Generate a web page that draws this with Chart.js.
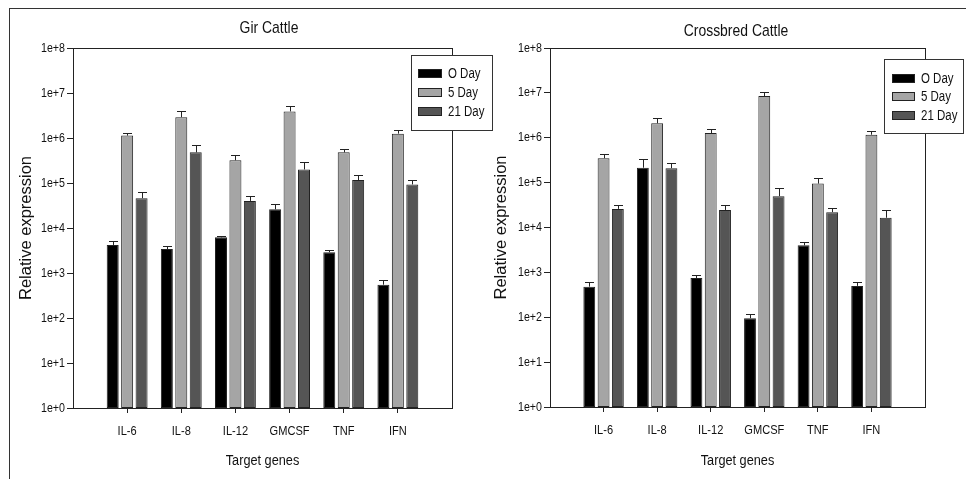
<!DOCTYPE html>
<html><head><meta charset="utf-8">
<script src="https://cdn.jsdelivr.net/npm/chart.js@4.4.1/dist/chart.umd.min.js"></script>
<style>
html,body{margin:0;padding:0;background:#fff;}
#wrap{position:relative;width:966px;height:479px;overflow:hidden;background:#fff;}
#frame{position:absolute;left:9px;top:8px;width:990px;height:500px;border-top:1px solid #333;border-left:1px solid #333;}
#c1{position:absolute;left:0;top:0;}
#c2{position:absolute;left:483px;top:0;}
</style></head><body>
<div id="wrap">
<div id="frame"></div>
<canvas id="c1" width="500" height="479"></canvas>
<canvas id="c2" width="483" height="479"></canvas>
</div>
<script>
// ---- data ----
const categories = ['IL-6', 'IL-8', 'IL-12', 'GMCSF', 'TNF', 'IFN'];
const seriesNames = ['O Day', '5 Day', '21 Day'];
const yTickValues = [1, 10, 100, 1000, 10000, 100000, 1000000, 10000000, 100000000];
const yTickLabels = ['1e+0', '1e+1', '1e+2', '1e+3', '1e+4', '1e+5', '1e+6', '1e+7', '1e+8'];

// Gir Cattle
const girDay0  = [4200, 3400, 6200, 26000, 2900, 550];
const girDay5  = [1130000, 2900000, 320000, 3900000, 480000, 1250000];
const girDay21 = [46000, 480000, 40000, 200000, 116000, 93000];
const girErr0  = [900, 600, 500, 9000, 340, 160];
const girErr5  = [140000, 1100000, 100000, 1300000, 100000, 250000];
const girErr21 = [17000, 210000, 11000, 96000, 32000, 23000];

// Crossbred Cattle
const crossDay0  = [480, 215000, 750, 95, 4000, 500];
const crossDay5  = [350000, 2100000, 1270000, 8500000, 95000, 1170000];
const crossDay21 = [26000, 210000, 24600, 50000, 22000, 16500];
const crossErr0  = [120, 125000, 120, 22, 700, 100];
const crossErr5  = [90000, 600000, 280000, 2000000, 34000, 280000];
const crossErr21 = [6000, 60000, 6400, 24000, 5800, 7500];

// ---- styling ----
const NARROW = "'Liberation Sans Narrow', 'Liberation Sans', Arial, sans-serif";
const REG = "'Liberation Sans', Arial, sans-serif";
const fills = ['#000000', '#a5a5a5', '#555555'];
const INK = '#222222';

// condensed text rendering for the narrow family (no narrow face installed)
function condense(canvas) {
  const ctx = canvas.getContext('2d');
  const orig = ctx.fillText.bind(ctx);
  ctx.fillText = function (text, x, y, maxWidth) {
    if (/Narrow/.test(ctx.font)) {
      ctx.save();
      ctx.translate(x, y);
      ctx.scale(0.82, 1);
      orig(text, 0, 0);
      ctx.restore();
    } else if (maxWidth !== undefined) {
      orig(text, x, y, maxWidth);
    } else {
      orig(text, x, y);
    }
  };
  return canvas;
}

const panelPlugin = {
  id: 'panel',
  afterDatasetsDraw(chart, args, opts) {
    const ctx = chart.ctx, ys = chart.scales.y;
    ctx.save();
    ctx.strokeStyle = INK; ctx.lineWidth = 1;
    chart.data.datasets.forEach((ds, i) => {
      const meta = chart.getDatasetMeta(i);
      meta.data.forEach((bar, j) => {
        const v = ds.data[j], e = ds.errors[j];
        if (v == null || e == null) return;
        const x = Math.round(bar.x) + 0.5;
        const yt = Math.round(ys.getPixelForValue(v + e)) + 0.5;
        ctx.beginPath();
        ctx.moveTo(x, bar.y); ctx.lineTo(x, yt);
        ctx.moveTo(x - 4.5, yt); ctx.lineTo(x + 4.5, yt);
        ctx.stroke();
      });
    });
    ctx.restore();
  },
  afterDraw(chart, args, opts) {
    const ctx = chart.ctx, a = chart.chartArea;
    ctx.save();
    ctx.strokeStyle = INK; ctx.lineWidth = 1;
    ctx.strokeRect(Math.round(a.left) + 0.5, Math.round(a.top) + 0.5,
                   Math.round(a.right - a.left), Math.round(a.bottom - a.top));
    // title
    ctx.fillStyle = '#111';
    ctx.font = '17px ' + NARROW;
    ctx.textAlign = 'center'; ctx.textBaseline = 'middle';
    ctx.fillText(opts.title, opts.titleX, opts.titleY);
    // legend
    const L = opts.legend;
    ctx.fillStyle = '#fff';
    ctx.fillRect(L.x, L.y, L.w, L.h);
    ctx.strokeStyle = '#333';
    ctx.strokeRect(L.x + 0.5, L.y + 0.5, L.w, L.h);
    ctx.font = '14px ' + NARROW;
    ctx.textAlign = 'left';
    chart.data.datasets.forEach((ds, i) => {
      const cy = L.y + L.rows[i];
      ctx.fillStyle = ds.backgroundColor;
      ctx.fillRect(L.x + L.sx, Math.round(cy - 4.5), L.sw, 9);
      ctx.strokeStyle = INK;
      ctx.strokeRect(L.x + L.sx + 0.5, Math.round(cy - 4.5) + 0.5, L.sw - 1, 8);
      ctx.fillStyle = '#111';
      ctx.fillText(ds.label, L.x + L.tx, cy + 1);
    });
    ctx.restore();
  }
};

function makeChart(id, d0, d1, d2, e0, e1, e2, cfg) {
  const labels = [''].concat(categories, ['']);
  const pad = arr => [null].concat(arr, [null]);
  const series = [[d0, e0], [d1, e1], [d2, e2]];
  const datasets = series.map((s, i) => ({
    label: seriesNames[i],
    data: pad(s[0]),
    errors: pad(s[1]),
    backgroundColor: fills[i],
    borderColor: INK,
    borderWidth: 1,
    borderSkipped: false,
    categoryPercentage: 0.80,
    barPercentage: 0.83
  }));
  const last = labels.length - 1;
  return new Chart(condense(document.getElementById(id)), {
    type: 'bar',
    data: { labels, datasets },
    plugins: [panelPlugin],
    options: {
      responsive: false,
      animation: false,
      devicePixelRatio: 1,
      layout: { padding: { left: 0, right: cfg.padRight, top: cfg.top, bottom: 0 } },
      plugins: {
        legend: { display: false },
        tooltip: { enabled: false },
        panel: cfg.panel
      },
      scales: {
        x: {
          offset: false,
          grid: {
            offset: false,
            drawOnChartArea: false,
            drawTicks: true,
            tickLength: 5,
            tickColor: c => (c.index === 0 || c.index === last) ? 'rgba(0,0,0,0)' : INK
          },
          border: { display: false },
          ticks: { color: '#111', font: { family: NARROW, size: 13.5 }, padding: 10, maxRotation: 0, autoSkip: false },
          title: { display: true, text: 'Target genes', color: '#111', font: { family: NARROW, size: 15.5 }, padding: { top: 0, bottom: 9 } },
          afterFit: s => { s.height = 479 - cfg.bottom; }
        },
        y: {
          type: 'logarithmic',
          min: 1, max: 100000000,
          afterBuildTicks: s => { s.ticks = yTickValues.map(v => ({ value: v })); },
          grid: { drawOnChartArea: false, drawTicks: true, tickLength: 6, color: INK },
          border: { display: false },
          ticks: {
            color: '#111', font: { family: NARROW, size: 13 }, padding: 2,
            callback: v => { const k = yTickValues.indexOf(v); return k >= 0 ? yTickLabels[k] : ''; }
          },
          title: { display: true, text: 'Relative expression', color: '#111', font: { family: REG, size: 16.5 }, padding: { top: cfg.yTitlePad, bottom: 0 } },
          afterFit: s => { s.width = cfg.left; }
        }
      }
    }
  });
}

makeChart('c1', girDay0, girDay5, girDay21, girErr0, girErr5, girErr21, {
  left: 73, padRight: 48, top: 48, bottom: 408, yTitlePad: 17,
  panel: { title: 'Gir Cattle', titleX: 269, titleY: 28,
           legend: { x: 411, y: 55, w: 81, h: 75, sx: 7, sw: 24, tx: 37, rows: [18.5, 37.5, 56.5] } }
});
makeChart('c2', crossDay0, crossDay5, crossDay21, crossErr0, crossErr5, crossErr21, {
  left: 67, padRight: 41, top: 48, bottom: 407, yTitlePad: 9,
  panel: { title: 'Crossbred Cattle', titleX: 253, titleY: 31,
           legend: { x: 401, y: 59, w: 79, h: 74, sx: 8, sw: 23, tx: 37, rows: [19.5, 37.5, 56] } }
});
</script>
</body></html>
